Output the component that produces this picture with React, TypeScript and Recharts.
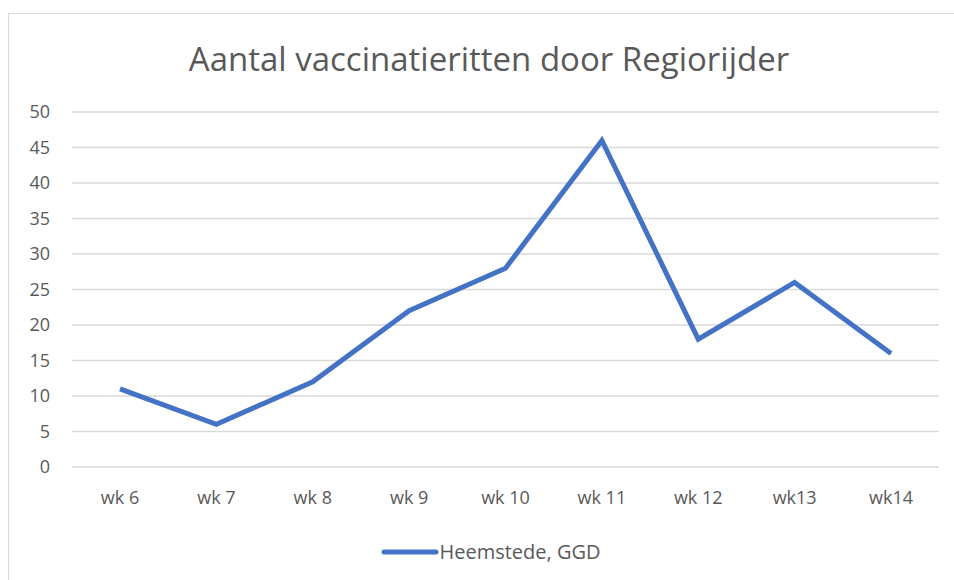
import React from 'react';
import { LineChart, Line, XAxis, YAxis, CartesianGrid, Legend } from 'recharts';

const weeks = ['wk 6', 'wk 7', 'wk 8', 'wk 9', 'wk 10', 'wk 11', 'wk 12', 'wk13', 'wk14'];
const ritten = [11, 6, 12, 22, 28, 46, 18, 26, 16];
const yTicks = [0, 5, 10, 15, 20, 25, 30, 35, 40, 45, 50];

const data = weeks.map((week, i) => ({ week, ritten: ritten[i] }));

const font = '"Open Sans", Lato, sans-serif';
const textColor = '#595959';
const lineColor = '#4472C4';

function LegendContent() {
    return (
        <div style={{ display: 'flex', justifyContent: 'center', alignItems: 'center', paddingLeft: 35 }}>
            <svg width={58} height={10}>
                <line x1={3} y1={5} x2={55} y2={5} stroke={lineColor} strokeWidth={5} strokeLinecap="round" />
            </svg>
            <span style={{ fontFamily: font, fontSize: 20, color: textColor }}>Heemstede, GGD</span>
        </div>
    );
}

export default function App() {
    return (
        <div
            style={{
                position: 'fixed',
                left: 8,
                top: 8,
                width: 946,
                height: 572,
                background: '#fff',
                overflow: 'hidden',
            }}
        >
            <div
                style={{
                    position: 'absolute',
                    left: 0,
                    top: 5,
                    width: 1000,
                    height: 1000,
                    borderTop: '1px solid #d9d9d9',
                    borderLeft: '1px solid #d9d9d9',
                    boxSizing: 'border-box',
                }}
            />
            <LineChart
                width={946}
                height={572}
                data={data}
                margin={{ top: 104, right: 15, left: 0, bottom: 18 }}
            >
                <text x={481} y={63} textAnchor="middle" fontFamily={font} fontSize={33} fill={textColor}>
                    Aantal vaccinatieritten door Regiorijder
                </text>
                <CartesianGrid vertical={false} stroke="#d9d9d9" strokeWidth={1.5} />
                <XAxis
                    dataKey="week"
                    padding={{ left: 48, right: 48 }}
                    axisLine={false}
                    tickLine={false}
                    tickSize={0}
                    tickMargin={24}
                    height={71}
                    interval={0}
                    tick={{ fontFamily: font, fontSize: 18, fill: textColor }}
                />
                <YAxis
                    domain={[0, 50]}
                    ticks={yTicks}
                    interval={0}
                    width={64}
                    axisLine={false}
                    tickLine={false}
                    tickSize={0}
                    tickMargin={22}
                    tick={{ fontFamily: font, fontSize: 18, fill: textColor }}
                />
                <Legend verticalAlign="bottom" height={24} content={<LegendContent />} />
                <Line
                    type="linear"
                    dataKey="ritten"
                    name="Heemstede, GGD"
                    stroke={lineColor}
                    strokeWidth={5}
                    dot={false}
                    activeDot={false}
                    isAnimationActive={false}
                />
            </LineChart>
        </div>
    );
}
